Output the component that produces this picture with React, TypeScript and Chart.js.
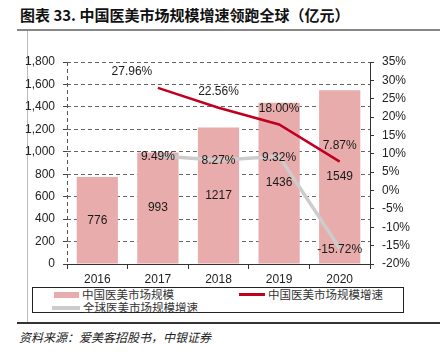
import React, { useEffect, useRef } from "react";
import { Chart, registerables } from "chart.js";

Chart.register(...registerables);

const years = ["2016", "2017", "2018", "2019", "2020"];
const marketSize = [776, 993, 1217, 1436, 1549];
const chinaGrowth = [null, 27.96, 22.56, 18.0, 7.87];
const globalGrowth = [null, 9.49, 8.27, 9.32, -15.72];
const seriesNames = ["中国医美市场规模", "中国医美市场规模增速", "全球医美市场规模增速"];
const title = "图表 33. 中国医美市场规模增速领跑全球（亿元）";
const source = "资料来源：爱美客招股书，中银证券";

const BAR_COLOR = "#E8ACAC";
const RED = "#C0001E";
const GRAY = "#CCCCCC";
const NUM_FONT = '"Liberation Sans", Arial, sans-serif';
const CJK_FONT = '"Noto Sans CJK SC", "Noto Sans", sans-serif';

const labelPlugin = {
  id: "valueLabels",
  beforeDatasetsDraw(chart: any) {
    const { ctx, chartArea } = chart;
    ctx.save();
    ctx.strokeStyle = "#555";
    ctx.lineWidth = 1;
    ctx.setLineDash([4, 3]);
    ctx.beginPath();
    ctx.moveTo(Math.round(chartArea.left) + 0.5, chartArea.top);
    ctx.lineTo(Math.round(chartArea.left) + 0.5, chartArea.bottom);
    ctx.stroke();
    ctx.restore();
  },
  afterDatasetsDraw(chart: any) {
    const { ctx } = chart;
    ctx.save();
    ctx.font = `12px ${NUM_FONT}`;
    ctx.fillStyle = "#1a1a1a";
    ctx.textAlign = "center";
    ctx.textBaseline = "middle";
    chart.data.datasets.forEach((ds: any, di: number) => {
      const meta = chart.getDatasetMeta(di);
      meta.data.forEach((el: any, i: number) => {
        const v = ds.data[i];
        if (v === null || v === undefined) return;
        if (ds.type === "bar") {
          ctx.fillText(String(v), el.x, (el.y + el.base) / 2);
        } else if (ds.labelPos === "above") {
          const dx = i === 1 ? -26 : 0;
          ctx.fillText(v.toFixed(2) + "%", el.x + dx, el.y - 16);
        } else {
          ctx.fillText(v.toFixed(2) + "%", el.x, el.y + 1);
        }
      });
    });
    ctx.restore();
  },
};

export default function App() {
  const ref = useRef<HTMLCanvasElement | null>(null);

  useEffect(() => {
    if (!ref.current) return;
    const chart = new Chart(ref.current, {
      type: "bar",
      data: {
        labels: years,
        datasets: [
          {
            type: "bar",
            label: seriesNames[0],
            data: marketSize,
            backgroundColor: BAR_COLOR,
            yAxisID: "y",
            barPercentage: 0.68,
            categoryPercentage: 1,
            order: 2,
          } as any,
          {
            type: "line",
            label: seriesNames[1],
            data: chinaGrowth,
            borderColor: RED,
            borderWidth: 2.5,
            pointRadius: 0,
            yAxisID: "y1",
            order: 0,
            labelPos: "above",
          } as any,
          {
            type: "line",
            label: seriesNames[2],
            data: globalGrowth,
            borderColor: GRAY,
            borderWidth: 3.5,
            pointRadius: 0,
            yAxisID: "y1",
            order: 1,
            labelPos: "center",
          } as any,
        ],
      },
      options: {
        responsive: false,
        animation: false,
        devicePixelRatio: 1,
        layout: { padding: { top: 22, left: 0, right: 0, bottom: 0 } },
        plugins: {
          legend: { display: false },
          tooltip: { enabled: false },
          title: { display: false },
        },
        scales: {
          x: {
            offset: true,
            grid: {
              offset: true,
              drawOnChartArea: false,
              drawTicks: true,
              tickLength: 5,
              color: "#333",
            },
            border: { color: "#333", width: 1 },
            ticks: { font: { size: 12, family: NUM_FONT }, color: "#222", padding: 3 },
            afterFit: (s: any) => {
              s.height = 21;
            },
          },
          y: {
            position: "left",
            min: 0,
            max: 1800,
            ticks: {
              stepSize: 200,
              font: { size: 12, family: NUM_FONT },
              color: "#222",
              padding: 8,
              callback: (v: any) => Number(v).toLocaleString("en-US"),
            },
            grid: {
              color: "#666",
              lineWidth: 1,
              drawTicks: true,
              tickLength: 4,
              tickBorderDash: [],
              tickColor: "#444",
            },
            border: { display: false, dash: [4, 3] },
            afterFit: (s: any) => {
              s.width = 67;
            },
          },
          y1: {
            position: "right",
            min: -20,
            max: 35,
            ticks: {
              stepSize: 5,
              font: { size: 12, family: NUM_FONT },
              color: "#222",
              padding: 8,
              callback: (v: any) => v + "%",
            },
            grid: {
              drawOnChartArea: false,
              drawTicks: true,
              tickLength: 4,
              color: "#333",
            },
            border: { color: "#333", width: 1 },
            afterFit: (s: any) => {
              s.width = 70;
            },
          },
        },
      },
      plugins: [labelPlugin],
    });
    return () => chart.destroy();
  }, []);

  const legendItem = (left: number, top: number, swatch: any, text: string) => (
    <div style={{ position: "absolute", left, top, height: 13, display: "flex", alignItems: "center" }}>
      <div style={swatch} />
      <span style={{ fontFamily: CJK_FONT, fontSize: 11.5, color: "#333", marginLeft: 3, whiteSpace: "nowrap", lineHeight: "13px" }}>
        {text}
      </span>
    </div>
  );

  return (
    <div style={{ position: "absolute", left: 0, top: 0, width: 440, height: 355, background: "#fff", overflow: "hidden" }}>
      <div
        style={{
          position: "absolute",
          left: 20,
          top: 5,
          fontFamily: CJK_FONT,
          fontWeight: "bold",
          fontSize: 15,
          color: "#111",
          whiteSpace: "nowrap",
          lineHeight: "20px",
        }}
      >
        {title}
      </div>
      <div style={{ position: "absolute", left: 17, top: 29, width: 423, height: 2, background: "#888" }} />
      <div style={{ position: "absolute", left: 27, top: 31, width: 1, height: 292, background: "#bbb" }} />
      <canvas
        ref={ref}
        width={440}
        height={245}
        style={{ position: "absolute", left: 0, top: 40, width: 440, height: 245 }}
      />
      <div
        style={{
          position: "absolute",
          left: 32,
          top: 287,
          width: 370,
          height: 24,
          border: "1px solid #222",
          background: "#fff",
        }}
      >
        {legendItem(21, 0, { width: 25, height: 6, background: BAR_COLOR }, seriesNames[0])}
        {legendItem(206, 0, { width: 26, height: 3, background: RED }, seriesNames[1])}
        {legendItem(19, 13, { width: 28, height: 4, background: GRAY }, seriesNames[2])}
      </div>
      <div style={{ position: "absolute", left: 17, top: 322, width: 423, height: 2, background: "#333" }} />
      <div
        style={{
          position: "absolute",
          left: 19,
          top: 329,
          fontFamily: CJK_FONT,
          fontStyle: "italic",
          fontSize: 12,
          color: "#222",
          whiteSpace: "nowrap",
          lineHeight: "16px",
        }}
      >
        {source}
      </div>
    </div>
  );
}
